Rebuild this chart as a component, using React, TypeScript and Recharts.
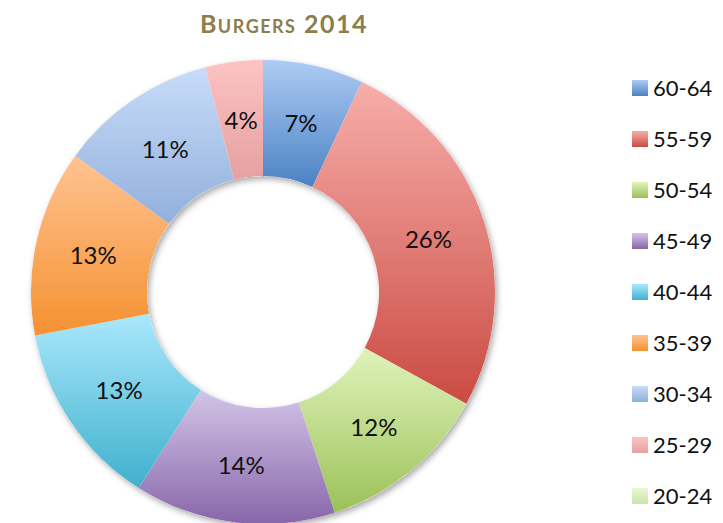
import { PieChart, Pie, Cell, Legend } from 'recharts'

const ageGroups = ['60-64', '55-59', '50-54', '45-49', '40-44', '35-39', '30-34', '25-29', '20-24']
const shares = [7, 26, 12, 14, 13, 13, 11, 4, 0]

const topColors = ['#aecbf4', '#f7aeaa', '#dff3bb', '#d3c5e8', '#aae8fc', '#ffc391', '#c7dcf8', '#fdc3c3', '#eaf8d3']
const bottomColors = ['#4a82c4', '#ca4b43', '#9cc158', '#8866aa', '#40b0cd', '#f59131', '#92b0dc', '#e6a0a0', '#cde2aa']

const pieData = ageGroups.map((name, i) => ({ name, value: shares[i] }))
const ringData = [{ name: 'ring', value: 1 }]

const RADIAN = Math.PI / 180

function renderLabel(props: any) {
    const { cx, cy, midAngle, innerRadius, outerRadius, value } = props
    if(!value) return null
    const r = innerRadius + (outerRadius - innerRadius) / 2
    const x = cx + r * Math.cos(-midAngle * RADIAN)
    const y = cy + r * Math.sin(-midAngle * RADIAN)
    return (
        <text x={x} y={y} textAnchor="middle" dominantBaseline="central"
            fontFamily="Lato, sans-serif" fontSize={24} fill="#111">
            {`${value}%`}
        </text>
    )
}

function LegendList() {
    return (
        <div>
            {ageGroups.map((name, i) => (
                <div key={name} style={{ display: 'flex', alignItems: 'center', height: 51 }}>
                    <span style={{
                        width: 16, height: 16, marginRight: 5,
                        background: `linear-gradient(${topColors[i]}, ${bottomColors[i]})`,
                    }} />
                    <span style={{ fontFamily: 'Lato, sans-serif', fontSize: 22, color: '#111' }}>{name}</span>
                </div>
            ))}
        </div>
    )
}

export default function App() {
    return (
        <div style={{ position: 'absolute', left: 0, top: 0, width: 723, height: 523, background: '#fff' }}>
            <div style={{
                position: 'absolute', top: 8, left: 0, width: 568, textAlign: 'center',
                fontFamily: 'Lato, sans-serif', fontWeight: 700, fontSize: 25,
                fontVariant: 'small-caps', letterSpacing: 1.5, color: '#8b7e4a', zIndex: 2,
            }}>
                Burgers 2014
            </div>
            <PieChart width={723} height={523} margin={{ top: 0, right: 0, bottom: 0, left: 0 }}>
                <defs>
                    {ageGroups.map((name, i) => (
                        <linearGradient key={name} id={`grad${i}`} x1="0" y1="0" x2="0" y2="1">
                            <stop offset="0%" stopColor={topColors[i]} />
                            <stop offset="100%" stopColor={bottomColors[i]} />
                        </linearGradient>
                    ))}
                    <filter id="ringShadow" x="-20%" y="-20%" width="140%" height="140%">
                        <feDropShadow dx="2" dy="3" stdDeviation="3" floodColor="#000" floodOpacity="0.35" />
                    </filter>
                </defs>
                <Pie
                    data={ringData}
                    dataKey="value"
                    cx={263}
                    cy={292}
                    innerRadius={116}
                    outerRadius={232}
                    startAngle={90}
                    endAngle={-270}
                    stroke="none"
                    isAnimationActive={false}
                >
                    <Cell fill="#ffffff" filter="url(#ringShadow)" />
                </Pie>
                <Pie
                    data={pieData}
                    dataKey="value"
                    nameKey="name"
                    cx={263}
                    cy={292}
                    innerRadius={116}
                    outerRadius={232}
                    startAngle={90}
                    endAngle={-270}
                    stroke="none"
                    label={renderLabel}
                    labelLine={false}
                    isAnimationActive={false}
                >
                    {pieData.map((entry, i) => (
                        <Cell key={entry.name} fill={`url(#grad${i})`} />
                    ))}
                </Pie>
                <Legend
                    content={<LegendList />}
                    layout="vertical"
                    align="right"
                    verticalAlign="top"
                    wrapperStyle={{ left: 632, top: 62, width: 91 }}
                />
            </PieChart>
        </div>
    )
}
